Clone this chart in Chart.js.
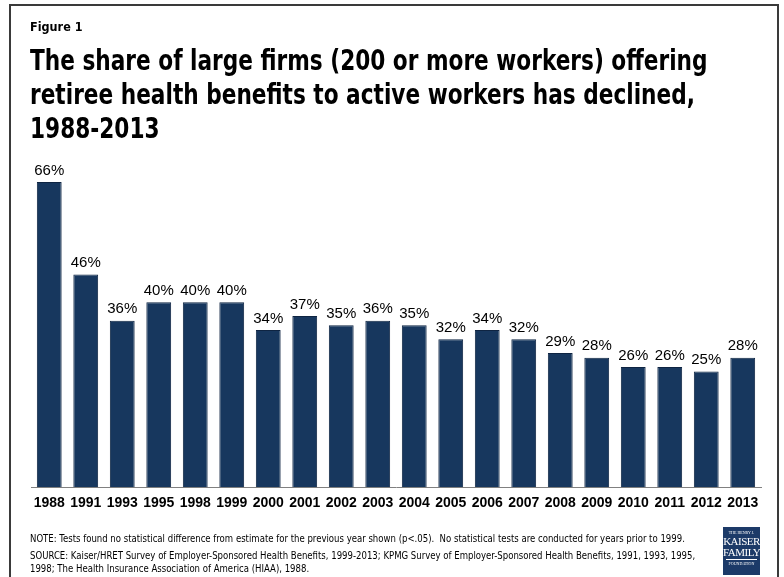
<!DOCTYPE html>
<html>
<head>
<meta charset="utf-8">
<script src="https://cdn.jsdelivr.net/npm/chart.js@4"></script>
<style>
  html, body { margin: 0; padding: 0; background: #fff; }
  body { width: 784px; height: 577px; position: relative; overflow: hidden;
         font-family: "Liberation Sans Narrow", "DejaVu Sans Condensed", "Liberation Sans", sans-serif; color: #000; }
  #frame { position: absolute; left: 9px; top: 4px; width: 770px; height: 600px;
           border: 2px solid #3a3a3a; border-bottom: none; box-sizing: border-box; }
  #fig { position: absolute; left: 30px; top: 19px; font-size: 12.5px; font-weight: bold; }
  #title { position: absolute; left: 30px; top: 43px; font-size: 29px; white-space: nowrap;
           font-weight: bold; line-height: 34px; transform: scaleX(0.83); transform-origin: 0 0; }
  #chart { position: absolute; left: 0; top: 0; }
  .note { position: absolute; left: 30px; font-size: 10px; line-height: 13px; white-space: nowrap;
          transform: scaleX(0.95); transform-origin: 0 0; }
  #logo { position: absolute; left: 723px; top: 527px; width: 37px; height: 48px; background: #1c3a68;
          color: #fff; font-family: "Liberation Serif", serif; text-align: center; }
  #logo .s { font-size: 4px; line-height: 6px; margin-top: 3px; }
  #logo .b { font-size: 11px; line-height: 11px; letter-spacing: -0.5px; }
  #logo hr { border: none; border-top: 1px solid #fff; margin: 1px 3px; }
</style>
</head>
<body>
<div id="frame"></div>
<canvas id="chart" width="784" height="577"></canvas>
<div id="fig">Figure 1</div>
<div id="title">The share of large firms (200 or more workers) offering<br>retiree health benefits to active workers has declined,<br>1988-2013</div>
<div class="note" style="top:532px">NOTE: Tests found no statistical difference from estimate for the previous year shown (p&lt;.05).&nbsp; No statistical tests are conducted for years prior to 1999.</div>
<div class="note" style="top:549px">SOURCE: Kaiser/HRET Survey of Employer-Sponsored Health Benefits, 1999-2013; KPMG Survey of Employer-Sponsored Health Benefits, 1991, 1993, 1995,<br>1998; The Health Insurance Association of America (HIAA), 1988.</div>
<div id="logo"><div class="s">THE HENRY J.</div><div class="b">KAISER</div><div class="b">FAMILY</div><hr><div class="s" style="margin-top:0">FOUNDATION</div></div>
<script>
// 年份与比例
const years = ['1988', '1991', '1993', '1995', '1998', '1999', '2000', '2001', '2002', '2003',
               '2004', '2005', '2006', '2007', '2008', '2009', '2010', '2011', '2012', '2013'];
const sharePct = [66, 46, 36, 40, 40, 40, 34, 37, 35, 36, 35, 32, 34, 32, 29, 28, 26, 26, 25, 28];

// 柱顶数值标签
const barLabels = {
    id: 'barLabels',
    afterDatasetsDraw(chart) {
        const ctx = chart.ctx;
        const meta = chart.getDatasetMeta(0);
        ctx.save();
        ctx.font = '15px "Liberation Sans Narrow", "Liberation Sans", sans-serif';
        ctx.fillStyle = '#000';
        ctx.textAlign = 'center';
        ctx.textBaseline = 'bottom';
        meta.data.forEach((bar, i) => {
            ctx.fillText(sharePct[i] + '%', bar.x, bar.y - 4);
        });
        ctx.restore();
    }
};

new Chart(document.getElementById('chart'), {
    type: 'bar',
    data: {
        labels: years,
        datasets: [{
            data: sharePct,
            backgroundColor: '#17375E',
            borderColor: '#0e2442',
            borderWidth: 1,
            barPercentage: 0.68,
            categoryPercentage: 1
        }]
    },
    options: {
        responsive: false,
        animation: false,
        layout: { padding: { left: 31, right: 23, top: 182, bottom: 65 } },
        plugins: { legend: { display: false }, tooltip: { enabled: false } },
        scales: {
            x: {
                grid: { display: false },
                border: { display: true, color: '#808080', width: 1 },
                ticks: {
                    color: '#000',
                    padding: 0,
                    font: { family: '"Liberation Sans Narrow", "Liberation Sans", sans-serif', size: 14, weight: 'bold' },
                    maxRotation: 0,
                    autoSkip: false
                }
            },
            y: {
                display: false,
                min: 0,
                max: 66
            }
        }
    },
    plugins: [barLabels]
});
</script>
</body>
</html>
